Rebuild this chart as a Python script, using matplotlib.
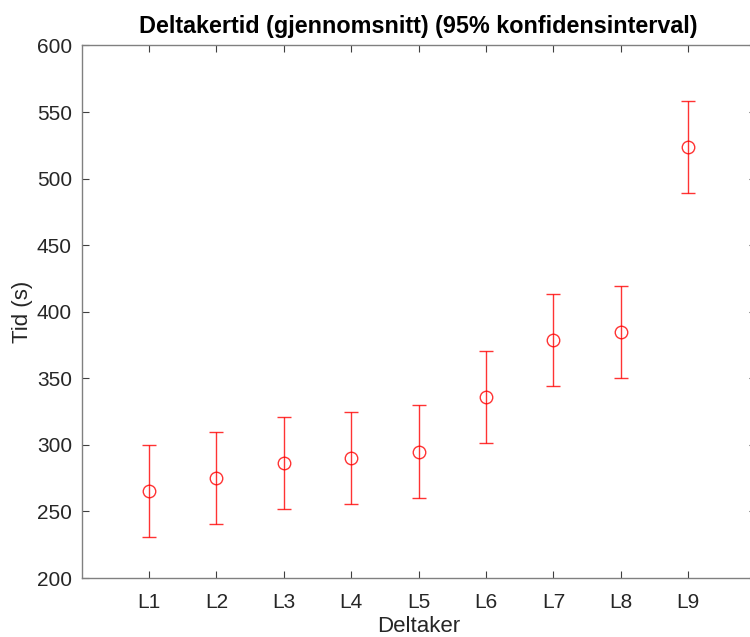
import matplotlib.pyplot as plt
import numpy as np

# deltakere og gjennomsnittstid med 95% konfidensintervall
deltakere = ['L1', 'L2', 'L3', 'L4', 'L5', 'L6', 'L7', 'L8', 'L9']
snitt = [265.4, 274.8, 286.6, 290.3, 295.0, 336.0, 378.8, 384.9, 523.5]
nedre = [230.8, 240.2, 252.0, 255.6, 260.3, 301.3, 344.2, 350.2, 488.9]
ovre = [300.0, 309.5, 321.3, 325.0, 329.7, 370.7, 413.5, 419.5, 558.2]

plt.rcParams['font.family'] = ['Liberation Sans', 'DejaVu Sans']
tekst = '#262626'

fig = plt.figure(figsize=(7.5, 6.37), dpi=100)
ax = fig.add_axes([0.1089, 0.0926, 0.8987, 0.836])

x = np.arange(1, len(deltakere) + 1)
snitt_a = np.array(snitt)
feil = [snitt_a - np.array(nedre), np.array(ovre) - snitt_a]
ax.errorbar(x, snitt, yerr=feil, fmt='o', color='#ff0000', mfc='none',
            ms=9, mew=1.0, elinewidth=1.0, capsize=5, capthick=1.0, alpha=0.8)

ax.set_xlim(0, 10)
ax.set_ylim(200, 600)
ax.set_xticks(x)
ax.set_xticklabels(deltakere)
ax.set_yticks(np.arange(200, 601, 50))

for s in ax.spines.values():
    s.set_color('#808080')
    s.set_linewidth(1.0)
ax.tick_params(direction='in', top=True, right=True, length=5, width=0.8,
               color='#404040', labelsize=15, labelcolor=tekst)
ax.tick_params(axis='x', pad=11)
ax.tick_params(axis='y', pad=7)

ax.set_xlabel('Deltaker', fontsize=16, color=tekst, labelpad=3)
ax.set_ylabel('Tid (s)', fontsize=16, color=tekst, labelpad=3)
ax.set_title('Deltakertid (gjennomsnitt) (95% konfidensinterval)',
             fontsize=16.8, fontweight='bold', color='black', pad=9)

fig.savefig('out.png', dpi=100)
